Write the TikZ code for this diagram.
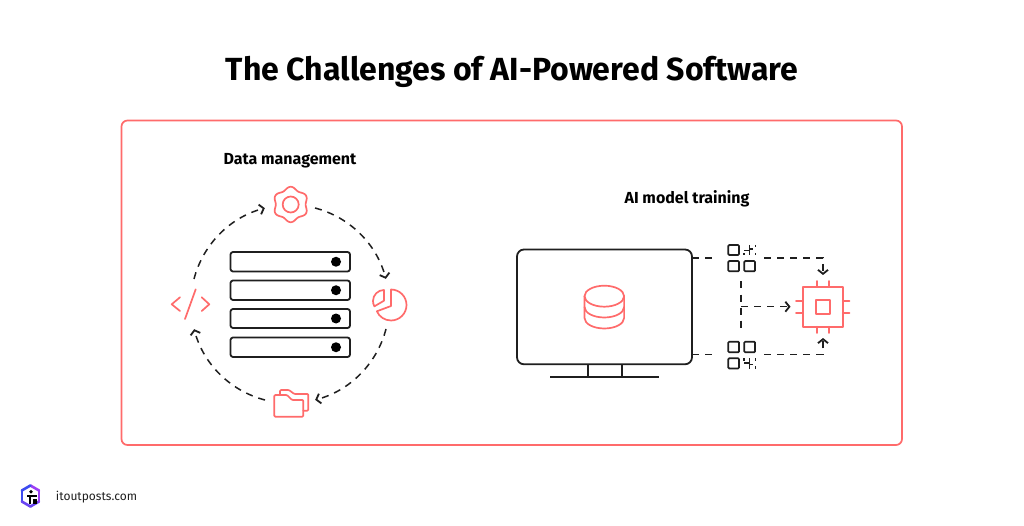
\documentclass[tikz,border=0pt]{standalone}
\usepackage{fontspec}
\setmainfont{Fira Sans}
\usetikzlibrary{arrows.meta}
\definecolor{coral}{HTML}{FF6B6B}
\definecolor{ink}{HTML}{1F1F1F}
\definecolor{logoblue}{HTML}{3D4BF0}
\definecolor{logomid}{HTML}{6A45F2}
\definecolor{logoviolet}{HTML}{9B3FF5}
\tikzset{
  coralline/.style={draw=coral,line width=1.7pt,line join=round,line cap=round},
  inkline/.style={draw=ink,line width=1.8pt,line join=round},
  flow/.style={draw=ink,line width=1.5pt,dash pattern=on 7pt off 6pt,-{Straight Barb[length=4pt,width=10pt,line width=1.8pt]}},
  flowplain/.style={draw=ink,line width=1.5pt,dash pattern=on 7pt off 6pt},
  rack/.style={inkline,rounded corners=2.5pt},
  cell/.style={draw=ink,line width=1.7pt,rounded corners=1pt},
  bit/.style={draw=ink,line width=1.4pt},
  title/.style={anchor=base,font=\fontsize{32}{36}\selectfont\bfseries,text=black,inner sep=0pt},
  heading/.style={anchor=base,font=\fontsize{16}{18}\selectfont\bfseries,text=black,inner sep=0pt},
  site/.style={anchor=base,font=\fontsize{12}{15}\selectfont,text=ink,inner sep=0pt}
}
\begin{document}
\begin{tikzpicture}[x=1pt,y=-1pt]
\useasboundingbox (0,0) rectangle (1024,526);
\fill[white] (0,0) rectangle (1024,526);
\node[title] (ttl) at (512,81) {The Challenges of AI-Powered Software};
\draw[coralline,rounded corners=6pt] (121.5,120.5) rectangle (902,445);
\node[heading] (dm) at (290,165) {Data management};
\node[heading] (ai) at (687,204) {AI model training};
\node[site] (web) at (96.5,500.5) {itoutposts.com};
% racks
\foreach \a/\b in {252/271.5,280.5/300,309/328,337.5/357}{
  \draw[rack] (230.5,\a) rectangle (350,\b);
  \fill[black] (336,{(\a+\b)/2}) circle (5);
}
% cycle
\coordinate (g1) at (315,208);
\coordinate (p2) at (386,329);
\coordinate (f2) at (265,400);
\coordinate (k2) at (194,279);
\draw[flow] (g1) arc[start angle=-75.4,end angle=-14.6,radius=99];
\draw[flow] (p2) arc[start angle=14.6,end angle=75.4,radius=99];
\draw[flow] (f2) arc[start angle=104.6,end angle=165.4,radius=99];
\draw[flow] (k2) arc[start angle=194.6,end angle=255.4,radius=99];
% gear
\draw[coralline] plot[domain=0:360,samples=145,smooth] ({290.7+(16.3+1.4*cos(6*(\x-90)))*cos(\x)},{204.5-(16.3+1.4*cos(6*(\x-90)))*sin(\x)}) -- cycle;
\draw[coralline] (290.7,204.5) circle (8);
% pie
\draw[coralline] (391,306) -- (391,289.5) arc[start angle=-90,end angle=156,radius=15.5] -- cycle;
\draw[coralline] (384,300.7) -- (384,290) arc[start angle=-90,end angle=-209,radius=11] -- cycle;
% folder
\draw[coralline,rounded corners=1pt] (274.3,395) -- (287,395) -- (292,400) -- (303.3,400) -- (303.3,416.7) -- (274.3,416.7) -- cycle;
\draw[coralline,rounded corners=1pt] (280,395) -- (280,390) -- (289,390) -- (294.3,394) -- (308.3,394) -- (308.3,410.7) -- (303.3,410.7);
% code
\draw[coralline] (180,297.3) -- (171.7,304.3) -- (180,311);
\draw[coralline] (201.7,297.3) -- (209.3,304.3) -- (201.7,311);
\draw[coralline] (195.7,289.3) -- (185,319);
% monitor
\draw[inkline,rounded corners=7pt] (517,249.5) rectangle (692,364.3);
\draw[inkline] (588.3,364.3) -- (588.3,377.3) (621.7,364.3) -- (621.7,377.3);
\draw[inkline] (550,377.3) -- (659.3,377.3);
% database
\draw[coralline] (604.3,296.2) ellipse (19.8 and 10.5);
\draw[coralline] (584.5,296.2) -- (584.5,318) arc[start angle=180,end angle=0,x radius=19.8,y radius=10.5] -- (624.1,296.2);
\draw[coralline] (584.5,307) arc[start angle=180,end angle=0,x radius=19.8,y radius=10.5];
% connectors
\coordinate (mt) at (692,258);
\coordinate (mtg) at (717.5,258);
\coordinate (qt) at (764,258);
\coordinate (ct) at (823,275);
\coordinate (mb) at (692,354.3);
\coordinate (mbg) at (717.5,354.3);
\coordinate (qb) at (764,354.3);
\coordinate (cb) at (823,338);
\coordinate (vt) at (741,281.5);
\coordinate (vb) at (741,332);
\coordinate (vm) at (741,306.7);
\coordinate (cm) at (790.5,306.7);
\draw[flowplain] (mt) -- (mtg);
\draw[flowplain] (mb) -- (mbg);
\draw[flow] (qt) -| (ct);
\draw[flow] (qb) -| (cb);
\draw[flowplain] (vt) -- (vb);
\draw[flow] (vm) -- (cm);
% code tiles, top
\draw[cell] (728.3,245) rectangle (739,255);
\draw[cell] (728.3,261) rectangle (739,271.3);
\draw[cell] (744.3,261) rectangle (755,271.3);
\draw[bit] (749.3,245) -- (749.3,255.5) (744,250.7) -- (749.3,250.7) (749.3,249) -- (753.3,249) (755.7,245) -- (755.7,247.5) (755.7,253.5) -- (755.7,255.5) (744,253.5) -- (744,255.5);
% code tiles, bottom
\draw[cell] (728.3,341.7) rectangle (739,352.3);
\draw[cell] (744.3,341.7) rectangle (755,352.3);
\draw[cell] (728.3,358.3) rectangle (739,368.5);
\draw[bit] (749.3,358) -- (749.3,368.5) (744,363) -- (749.3,363) (749.3,364.5) -- (753.3,364.5) (755.7,366) -- (755.7,368.5) (755.7,358) -- (755.7,360.5) (744,358) -- (744,360.5);
% chip
\draw[coralline] (802.7,286.7) rectangle (842.7,326.7);
\draw[coralline] (815.7,299.7) rectangle (830,314);
\foreach \p in {816.7,829}{
  \draw[coralline] (\p,281) -- (\p,286.7) (\p,326.7) -- (\p,333);
}
\foreach \p in {300.7,312.7}{
  \draw[coralline] (796,\p) -- (802.7,\p) (842.7,\p) -- (849.5,\p);
}
% logo
\begin{scope}[line width=2.6pt,line cap=round]
\draw[draw=logoblue] (21.8,490.5) -- (21.8,501.5);
\draw[draw=logomid] (21.8,501.5) -- (30.4,506.5);
\draw[draw=logomid] (30.4,506.5) -- (39,501.5);
\draw[draw=logoviolet] (39,501.5) -- (39,490.5);
\draw[draw=logoviolet] (39,490.5) -- (30.4,485.5);
\draw[draw=logoblue] (30.4,485.5) -- (21.8,490.5);
\end{scope}
\fill[black] (31,491.8) circle (1.9);
\fill[black] (26.5,495) rectangle (37,497.2);
\fill[black] (28.5,495) rectangle (31.3,503.5);
\fill[black] (33,498.5) rectangle (37,503.5);
\end{tikzpicture}
\end{document}
